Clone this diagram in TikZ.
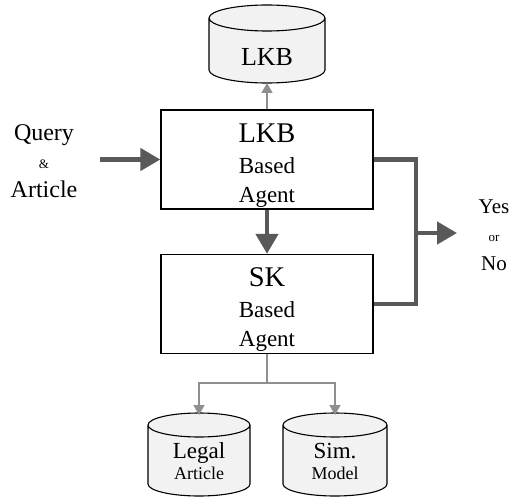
\documentclass[tikz,border=0pt]{standalone}
\usepackage{fontspec}
\setmainfont{Liberation Serif}
\usetikzlibrary{positioning, arrows.meta, calc, backgrounds}

\definecolor{flowgray}{HTML}{595959}
\definecolor{linkgray}{HTML}{8F8F8F}
\definecolor{dbgray}{HTML}{F2F2F2}

\tikzset{
  agent/.style={draw, line width=1.3pt, minimum width=212pt, minimum height=99pt, inner sep=0pt, align=center, font=\fontsize{23}{29}\selectfont},
  store/.style={inner sep=0pt, outer sep=0pt, align=center},
  flow/.style={draw=flowgray, line width=4.5pt, -{Triangle[length=20pt, width=22pt]}},
  link/.style={draw=linkgray, line width=1.4pt, -{Triangle[length=10pt, width=11pt]}}
}

% cylinder drawn round the front face of a store node
\newcommand{\drawstore}[2]{%
  \begin{pgfonlayer}{background}
  \draw[fill=dbgray, line width=1.1pt]
    let \p1=(#1.north west), \p2=(#1.south east), \n1={(\x2-\x1)/2} in
    (\x1,\y1+#2) -- (\x1,\y2+#2) arc[start angle=180, end angle=360, x radius=\n1, y radius=#2]
    -- (\x2,\y1+#2) arc[start angle=0, end angle=180, x radius=\n1, y radius=#2] -- cycle
    (\x1,\y1+#2) arc[start angle=180, end angle=360, x radius=\n1, y radius=#2];
  \end{pgfonlayer}}

\begin{document}
\begin{tikzpicture}[x=1pt, y=-1pt]
\useasboundingbox (0,0) rectangle (516,497);

% stores
\node[store, minimum width=116pt, minimum height=52pt, font=\fontsize{26}{30}\selectfont] (kb) at (267,57) {LKB};
\node[store, minimum width=102pt, minimum height=59pt, font=\fontsize{18}{21}\selectfont] (legal) at (199,466.5) {{\fontsize{23}{27}\selectfont Legal}\\Article\rule[-11pt]{0pt}{11pt}};
\node[store, minimum width=104pt, minimum height=59pt, font=\fontsize{18}{21}\selectfont] (sim) at (335,466.5) {{\fontsize{23}{27}\selectfont Sim.}\\Model\rule[-11pt]{0pt}{11pt}};
\drawstore{kb}{13pt}
\drawstore{legal}{12pt}
\drawstore{sim}{12pt}

% agents
\node[agent] (lkb) at (267,159.5) {\rule{0pt}{30pt}{\fontsize{28.5}{31}\selectfont LKB}\\[2pt]Based\\Agent};
\node[agent] (sk) at (267,304) {\rule{0pt}{30pt}{\fontsize{28.5}{31}\selectfont SK}\\[2pt]Based\\Agent};

% input and output
\node[align=center, font=\fontsize{24}{28.5}\selectfont] (query) at (44,161) {Query\\{\fontsize{13}{16}\selectfont \&}\\Article};
\node[align=center, font=\fontsize{21}{28.5}\selectfont] (answer) at (494,235) {Yes\\{\fontsize{13}{16}\selectfont or}\\No};

\coordinate (in) at (100,159.5);
\coordinate (merge) at (416,233);
\coordinate (out) at (457,233);
\coordinate (split) at (267,383);

\draw[flow] (in) -- (lkb.west);
\draw[flow] (lkb.south) -- (sk.north);
\draw[draw=flowgray, line width=4.5pt] (lkb.east) -| (merge) |- (sk.east);
\draw[flow] (merge) -- (out);

\draw[link] (lkb.north) -- (kb.south);
\draw[draw=linkgray, line width=1.4pt] (sk.south) -- (split);
\draw[link] (split) -| ([yshift=22pt]legal.north);
\draw[link] (split) -| ([yshift=22pt]sim.north);
\end{tikzpicture}
\end{document}
